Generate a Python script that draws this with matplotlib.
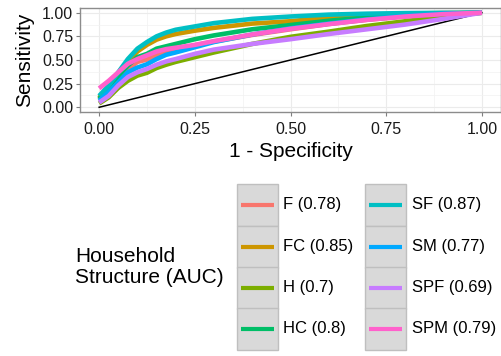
import matplotlib
matplotlib.use("Agg")
import matplotlib.pyplot as plt
from matplotlib.patches import Rectangle
from matplotlib.lines import Line2D

plt.rcParams['font.family'] = ['Liberation Sans', 'DejaVu Sans']

# false positive rate (1 - specificity) at which sensitivities were read
fpr = [0, 0.025, 0.05, 0.075, 0.1, 0.125, 0.15, 0.175, 0.2, 0.25, 0.3, 0.4, 0.5, 0.6, 0.7, 0.8, 0.9, 1.0]

groups = ['F', 'FC', 'H', 'HC', 'SF', 'SM', 'SPF', 'SPM']
auc = ['0.78', '0.85', '0.7', '0.8', '0.87', '0.77', '0.69', '0.79']
colors = ['#F8766D', '#CD9600', '#7CAE00', '#00BE67', '#00BFC4', '#00A9FF', '#C77CFF', '#FF61CC']

sens_F = [0.08, 0.18, 0.30, 0.40, 0.48, 0.505, 0.55, 0.585, 0.61, 0.655, 0.695, 0.765, 0.825, 0.88, 0.925, 0.96, 0.985, 1.0]
sens_FC = [0.10, 0.22, 0.35, 0.48, 0.59, 0.66, 0.715, 0.75, 0.775, 0.81, 0.84, 0.885, 0.91, 0.95, 0.975, 0.99, 0.997, 1.0]
sens_H = [0.04, 0.105, 0.205, 0.28, 0.335, 0.365, 0.415, 0.45, 0.48, 0.53, 0.58, 0.67, 0.745, 0.80, 0.86, 0.91, 0.96, 1.0]
sens_HC = [0.09, 0.20, 0.33, 0.44, 0.53, 0.565, 0.62, 0.645, 0.67, 0.72, 0.76, 0.825, 0.87, 0.915, 0.95, 0.975, 0.99, 1.0]
sens_SF = [0.12, 0.23, 0.37, 0.51, 0.62, 0.69, 0.75, 0.79, 0.82, 0.855, 0.89, 0.935, 0.96, 0.98, 0.99, 0.996, 0.999, 1.0]
sens_SM = [0.07, 0.16, 0.265, 0.37, 0.42, 0.455, 0.51, 0.555, 0.58, 0.635, 0.69, 0.77, 0.835, 0.885, 0.93, 0.965, 0.99, 1.0]
sens_SPF = [0.05, 0.12, 0.23, 0.32, 0.37, 0.405, 0.45, 0.485, 0.51, 0.565, 0.61, 0.67, 0.72, 0.775, 0.825, 0.875, 0.935, 1.0]
sens_SPM = [0.20, 0.28, 0.37, 0.46, 0.51, 0.55, 0.59, 0.615, 0.63, 0.66, 0.70, 0.77, 0.83, 0.88, 0.925, 0.96, 0.985, 1.0]
sens = [sens_F, sens_FC, sens_H, sens_HC, sens_SF, sens_SM, sens_SPF, sens_SPM]

W, H = 502, 356
fig = plt.figure(figsize=(W / 100, H / 100), dpi=100)
ax = fig.add_axes([80 / W, 1 - 112 / H, 421 / W, 104 / H])

ax.plot([0, 1], [0, 1], color='black', lw=1.1, zorder=2)
for g, s, c in zip(groups, sens, colors):
    ax.plot(fpr, s, color=c, lw=3.3, solid_joinstyle='round', solid_capstyle='butt', zorder=3)

ax.set_xlim(-0.05, 1.05)
ax.set_ylim(-0.05, 1.05)
ticks = [0, 0.25, 0.5, 0.75, 1.0]
ax.set_xticks(ticks)
ax.set_yticks(ticks)
ax.set_xticklabels(['%.2f' % t for t in ticks])
ax.set_yticklabels(['%.2f' % t for t in ticks])
ax.set_xticks([0.125, 0.375, 0.625, 0.875], minor=True)
ax.set_yticks([0.125, 0.375, 0.625, 0.875], minor=True)
ax.grid(True, which='major', color='#EBEBEB', lw=0.8, zorder=0)
ax.grid(True, which='minor', color='#F2F2F2', lw=0.5, zorder=0)
ax.set_axisbelow(True)
ax.tick_params(which='major', length=3, width=0.8, color='#7F7F7F', labelsize=11.5, labelcolor='#1a1a1a')
ax.tick_params(axis='x', pad=4)
ax.tick_params(axis='y', pad=2)
ax.tick_params(which='minor', length=0)
for sp in ax.spines.values():
    sp.set_color('#8C8C8C')
    sp.set_linewidth(1)
ax.set_xlabel('1 - Specificity', fontsize=15, labelpad=4)
ax.set_ylabel('Sensitivity', fontsize=15, labelpad=6)

# legend, drawn by hand in pixel units
def fx(px):
    return px / W

def fy(py):
    return 1 - py / H

fig.text(fx(75), fy(267), 'Household\nStructure (AUC)', fontsize=15, ha='left', va='center', linespacing=1.1)
row_top = [184, 226, 267, 308]
row_h = 41.5
col_box = [237, 365]
col_text = [283, 412]
for i, (g, a, c) in enumerate(zip(groups, auc, colors)):
    col, row = divmod(i, 4)
    x0 = col_box[col]
    y0 = row_top[row]
    fig.add_artist(Rectangle((fx(x0), fy(y0 + row_h)), 41 / W, row_h / H,
                             transform=fig.transFigure, facecolor='#D9D9D9',
                             edgecolor='#BFBFBF', lw=1))
    yc = fy(y0 + row_h / 2)
    fig.add_artist(Line2D([fx(x0 + 4), fx(x0 + 37)], [yc, yc], transform=fig.transFigure,
                          color=c, lw=3, solid_capstyle='butt'))
    fig.text(fx(col_text[col]), yc, '%s (%s)' % (g, a), fontsize=12, ha='left', va='center')

fig.savefig('out.png', dpi=100)
